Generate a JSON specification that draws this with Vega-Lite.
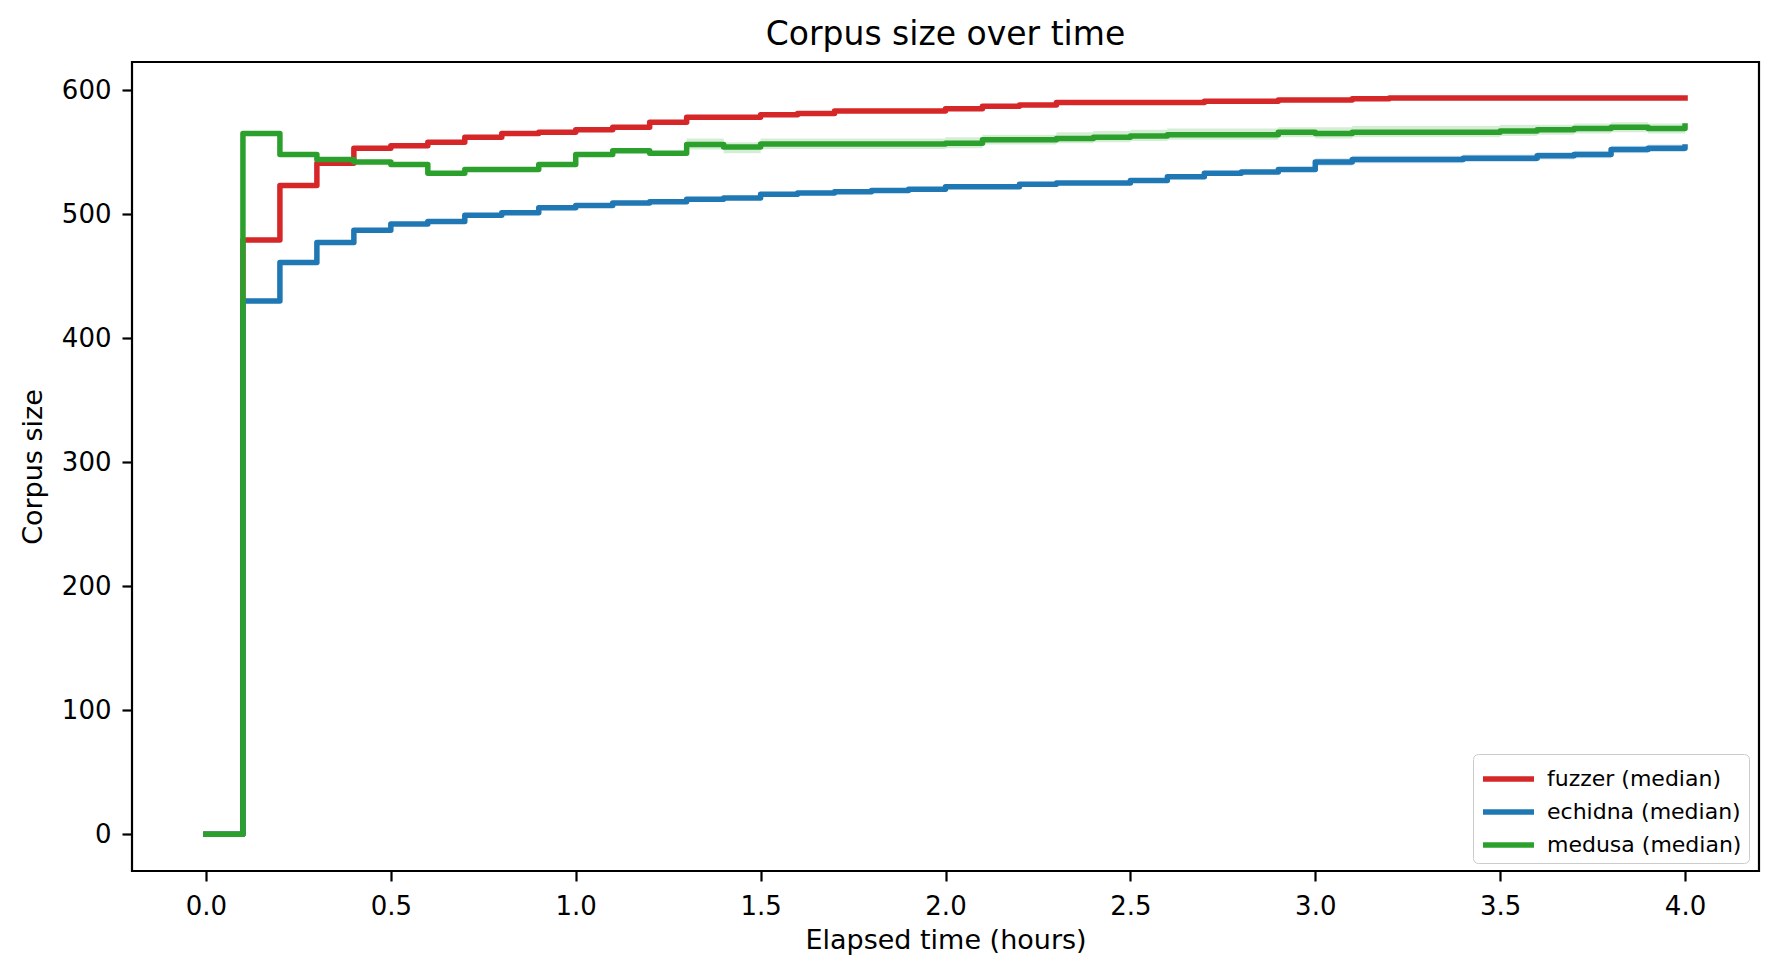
{
  "$schema": "https://vega.github.io/schema/vega-lite/v6.json",
  "width": 1627,
  "height": 809,
  "autosize": {"type": "none"},
  "padding": {"left": 132, "top": 62, "right": 20, "bottom": 107},
  "background": "white",
  "title": {"text": "Corpus size over time", "font": "DejaVu Sans", "fontSize": 33, "fontWeight": "normal", "color": "black", "offset": 10},
  "config": {
    "view": {"stroke": "black", "strokeWidth": 2.2},
    "line": {"strokeWidth": 5.5},
    "axis": {"grid": false, "domain": false, "tickColor": "black", "tickWidth": 2.2, "tickSize": 10, "labelFont": "DejaVu Sans", "labelFontSize": 26, "labelColor": "black", "titleFont": "DejaVu Sans", "titleFontSize": 27, "titleFontWeight": "normal", "titleColor": "black"},
    "legend": {"orient": "none", "legendX": 1341, "legendY": 692, "padding": 7, "strokeColor": "#cccccc", "fillColor": "white", "cornerRadius": 5, "labelFont": "DejaVu Sans", "labelFontSize": 22, "labelColor": "black", "labelOffset": 31, "labelLimit": 500, "rowPadding": 4}
  },
  "data": {"values": [
    {"s":"fuzzer","t":0.0,"v":0},{"s":"fuzzer","t":0.1,"v":479},{"s":"fuzzer","t":0.2,"v":523},{"s":"fuzzer","t":0.3,"v":541},{"s":"fuzzer","t":0.4,"v":553},{"s":"fuzzer","t":0.5,"v":555},{"s":"fuzzer","t":0.6,"v":558},{"s":"fuzzer","t":0.7,"v":562},{"s":"fuzzer","t":0.8,"v":565},{"s":"fuzzer","t":0.9,"v":566},
    {"s":"fuzzer","t":1.0,"v":568},{"s":"fuzzer","t":1.1,"v":570},{"s":"fuzzer","t":1.2,"v":574},{"s":"fuzzer","t":1.3,"v":578},{"s":"fuzzer","t":1.4,"v":578},{"s":"fuzzer","t":1.5,"v":580},{"s":"fuzzer","t":1.6,"v":581},{"s":"fuzzer","t":1.7,"v":583},{"s":"fuzzer","t":1.8,"v":583},{"s":"fuzzer","t":1.9,"v":583},
    {"s":"fuzzer","t":2.0,"v":585},{"s":"fuzzer","t":2.1,"v":587},{"s":"fuzzer","t":2.2,"v":588},{"s":"fuzzer","t":2.3,"v":590},{"s":"fuzzer","t":2.4,"v":590},{"s":"fuzzer","t":2.5,"v":590},{"s":"fuzzer","t":2.6,"v":590},{"s":"fuzzer","t":2.7,"v":591},{"s":"fuzzer","t":2.8,"v":591},{"s":"fuzzer","t":2.9,"v":592},
    {"s":"fuzzer","t":3.0,"v":592},{"s":"fuzzer","t":3.1,"v":593},{"s":"fuzzer","t":3.2,"v":593.5},{"s":"fuzzer","t":3.3,"v":593.5},{"s":"fuzzer","t":3.4,"v":593.5},{"s":"fuzzer","t":3.5,"v":593.5},{"s":"fuzzer","t":3.6,"v":593.5},{"s":"fuzzer","t":3.7,"v":593.5},{"s":"fuzzer","t":3.8,"v":593.5},{"s":"fuzzer","t":3.9,"v":593.5},{"s":"fuzzer","t":4.0,"v":593.5},

    {"s":"echidna","t":0.0,"v":0,"lo":0,"hi":0},{"s":"echidna","t":0.1,"v":430,"lo":429,"hi":431},{"s":"echidna","t":0.2,"v":461,"lo":460,"hi":462},{"s":"echidna","t":0.3,"v":477,"lo":476,"hi":478},{"s":"echidna","t":0.4,"v":487,"lo":486,"hi":488},{"s":"echidna","t":0.5,"v":492,"lo":491,"hi":493},{"s":"echidna","t":0.6,"v":494,"lo":493,"hi":495},{"s":"echidna","t":0.7,"v":499,"lo":498,"hi":500},{"s":"echidna","t":0.8,"v":501,"lo":500,"hi":502},{"s":"echidna","t":0.9,"v":505,"lo":504,"hi":506},
    {"s":"echidna","t":1.0,"v":507,"lo":506,"hi":508},{"s":"echidna","t":1.1,"v":509,"lo":508,"hi":510},{"s":"echidna","t":1.2,"v":510,"lo":509,"hi":511},{"s":"echidna","t":1.3,"v":512,"lo":511,"hi":513},{"s":"echidna","t":1.4,"v":513,"lo":512,"hi":514},{"s":"echidna","t":1.5,"v":516,"lo":515,"hi":517},{"s":"echidna","t":1.6,"v":517,"lo":516,"hi":518},{"s":"echidna","t":1.7,"v":518,"lo":517,"hi":519},{"s":"echidna","t":1.8,"v":519,"lo":518,"hi":520},{"s":"echidna","t":1.9,"v":520,"lo":519,"hi":521},
    {"s":"echidna","t":2.0,"v":522,"lo":521,"hi":523},{"s":"echidna","t":2.1,"v":522,"lo":521,"hi":523},{"s":"echidna","t":2.2,"v":524,"lo":523,"hi":525},{"s":"echidna","t":2.3,"v":525,"lo":524,"hi":526},{"s":"echidna","t":2.4,"v":525,"lo":524,"hi":526},{"s":"echidna","t":2.5,"v":527,"lo":526,"hi":528},{"s":"echidna","t":2.6,"v":530,"lo":529,"hi":531},{"s":"echidna","t":2.7,"v":533,"lo":532,"hi":534},{"s":"echidna","t":2.8,"v":534,"lo":533,"hi":535},{"s":"echidna","t":2.9,"v":536,"lo":535,"hi":537},
    {"s":"echidna","t":3.0,"v":542,"lo":539,"hi":545},{"s":"echidna","t":3.1,"v":544,"lo":541,"hi":547},{"s":"echidna","t":3.2,"v":544,"lo":541,"hi":547},{"s":"echidna","t":3.3,"v":544,"lo":541,"hi":547},{"s":"echidna","t":3.4,"v":545,"lo":542,"hi":548},{"s":"echidna","t":3.5,"v":545,"lo":542,"hi":548},{"s":"echidna","t":3.6,"v":547,"lo":544,"hi":550},{"s":"echidna","t":3.7,"v":548,"lo":545,"hi":551},{"s":"echidna","t":3.8,"v":552,"lo":549,"hi":555},{"s":"echidna","t":3.9,"v":553,"lo":550,"hi":556},{"s":"echidna","t":4.0,"v":554,"lo":551,"hi":557},

    {"s":"medusa","t":0.0,"v":0,"lo":0,"hi":0},{"s":"medusa","t":0.1,"v":565,"lo":563.5,"hi":567},{"s":"medusa","t":0.2,"v":548,"lo":546.5,"hi":549.5},{"s":"medusa","t":0.3,"v":544,"lo":542.5,"hi":545.5},{"s":"medusa","t":0.4,"v":542,"lo":540.5,"hi":543.5},{"s":"medusa","t":0.5,"v":540,"lo":538,"hi":541.5},{"s":"medusa","t":0.6,"v":533,"lo":531.5,"hi":534.5},{"s":"medusa","t":0.7,"v":536,"lo":534,"hi":537.5},{"s":"medusa","t":0.8,"v":536,"lo":534.5,"hi":537.5},{"s":"medusa","t":0.9,"v":540,"lo":538.5,"hi":541.5},
    {"s":"medusa","t":1.0,"v":548,"lo":546.5,"hi":549.5},{"s":"medusa","t":1.1,"v":551,"lo":549.5,"hi":552.5},{"s":"medusa","t":1.2,"v":549,"lo":547.5,"hi":550.5},{"s":"medusa","t":1.3,"v":556,"lo":552,"hi":561},{"s":"medusa","t":1.4,"v":554,"lo":549,"hi":558},{"s":"medusa","t":1.5,"v":556.5,"lo":552.5,"hi":561},{"s":"medusa","t":1.6,"v":556.5,"lo":552.5,"hi":561},{"s":"medusa","t":1.7,"v":556.5,"lo":552.5,"hi":561},{"s":"medusa","t":1.8,"v":556.5,"lo":552.5,"hi":561},{"s":"medusa","t":1.9,"v":556.5,"lo":552.5,"hi":561},
    {"s":"medusa","t":2.0,"v":557,"lo":553,"hi":562},{"s":"medusa","t":2.1,"v":560,"lo":556,"hi":564},{"s":"medusa","t":2.2,"v":560,"lo":556,"hi":564},{"s":"medusa","t":2.3,"v":561,"lo":557,"hi":566},{"s":"medusa","t":2.4,"v":562,"lo":558,"hi":567},{"s":"medusa","t":2.5,"v":563,"lo":559,"hi":568},{"s":"medusa","t":2.6,"v":564,"lo":560,"hi":569},{"s":"medusa","t":2.7,"v":564,"lo":560,"hi":569},{"s":"medusa","t":2.8,"v":564,"lo":560,"hi":569},{"s":"medusa","t":2.9,"v":566,"lo":562,"hi":570},
    {"s":"medusa","t":3.0,"v":565,"lo":561,"hi":570},{"s":"medusa","t":3.1,"v":566,"lo":562,"hi":571},{"s":"medusa","t":3.2,"v":566,"lo":562,"hi":571},{"s":"medusa","t":3.3,"v":566,"lo":562,"hi":571},{"s":"medusa","t":3.4,"v":566,"lo":562,"hi":571},{"s":"medusa","t":3.5,"v":567,"lo":563,"hi":572},{"s":"medusa","t":3.6,"v":568,"lo":564,"hi":572},{"s":"medusa","t":3.7,"v":569,"lo":565,"hi":573},{"s":"medusa","t":3.8,"v":570,"lo":566,"hi":574},{"s":"medusa","t":3.9,"v":569,"lo":565,"hi":573},{"s":"medusa","t":4.0,"v":571,"lo":567,"hi":574}
  ]},
  "encoding": {
    "x": {"field": "t", "type": "quantitative", "scale": {"domain": [-0.2, 4.2], "nice": false, "zero": false}, "axis": {"title": "Elapsed time (hours)", "values": [0, 0.5, 1, 1.5, 2, 2.5, 3, 3.5, 4], "format": ".1f", "labelPadding": 12, "titlePadding": 8}}
  },
  "layer": [
    {
      "transform": [{"filter": "datum.s === 'fuzzer'"}],
      "mark": {"type": "line", "interpolate": "step-after", "strokeWidth": 5.5, "strokeJoin": "round", "strokeCap": "square"},
      "encoding": {
        "y": {"field": "v", "type": "quantitative", "scale": {"domain": [-29.6, 622.6], "nice": false, "zero": false}, "axis": {"title": "Corpus size", "values": [0, 100, 200, 300, 400, 500, 600], "labelPadding": 11, "titlePadding": 14}},
        "color": {"field": "s", "type": "nominal", "scale": {"domain": ["fuzzer", "echidna", "medusa"], "range": ["#d62728", "#1f77b4", "#2ca02c"]}, "legend": {"title": null, "labelExpr": "datum.label + ' (median)'", "symbolType": "M-1,0H2.4", "symbolSize": 900, "symbolStrokeWidth": 6, "labelLimit": 500, "labelOffset": 31, "rowPadding": 4}}
      }
    },
    {
      "transform": [{"filter": "datum.s === 'echidna'"}],
      "mark": {"type": "area", "interpolate": "step-after", "color": "#1f77b4", "opacity": 0.2},
      "encoding": {"y": {"field": "lo", "type": "quantitative"}, "y2": {"field": "hi"}}
    },
    {
      "transform": [{"filter": "datum.s === 'echidna'"}],
      "mark": {"type": "line", "interpolate": "step-after", "strokeWidth": 5.5, "strokeJoin": "round", "strokeCap": "square"},
      "encoding": {
        "y": {"field": "v", "type": "quantitative"},
        "color": {"field": "s", "type": "nominal"}
      }
    },
    {
      "transform": [{"filter": "datum.s === 'medusa'"}],
      "mark": {"type": "area", "interpolate": "step-after", "color": "#2ca02c", "opacity": 0.2},
      "encoding": {"y": {"field": "lo", "type": "quantitative"}, "y2": {"field": "hi"}}
    },
    {
      "transform": [{"filter": "datum.s === 'medusa'"}],
      "mark": {"type": "line", "interpolate": "step-after", "strokeWidth": 5.5, "strokeJoin": "round", "strokeCap": "square"},
      "encoding": {
        "y": {"field": "v", "type": "quantitative"},
        "color": {"field": "s", "type": "nominal"}
      }
    }
  ]
}
